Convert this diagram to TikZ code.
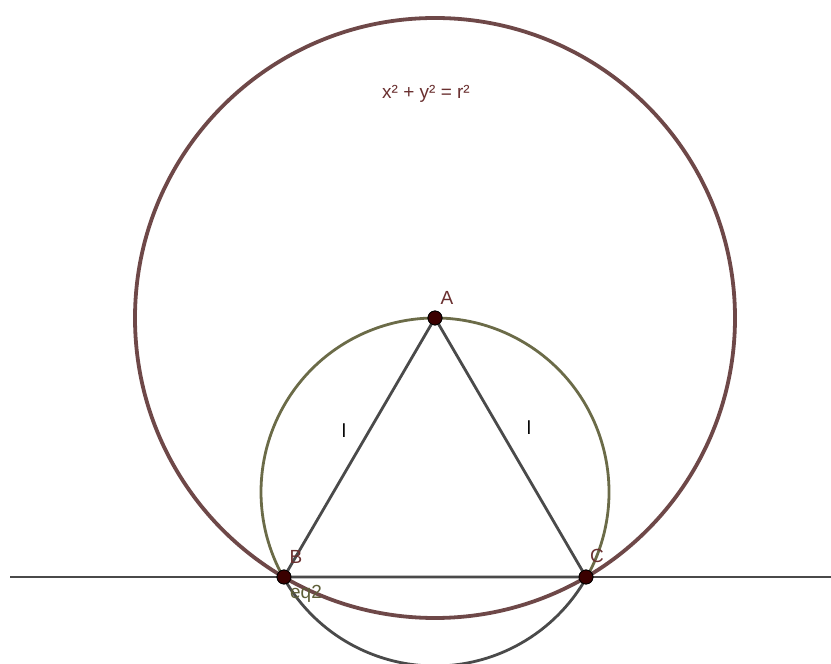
\documentclass[tikz,border=0pt]{standalone}
\usepackage{fontspec}
\setmainfont{Liberation Sans}
\usepackage{xcolor}
\definecolor{circbrown}{HTML}{6E4848}
\definecolor{circolive}{HTML}{6B6B48}
\definecolor{linegray}{HTML}{4A4A4A}
\definecolor{ptmaroon}{HTML}{3A0000}
\definecolor{lblmaroon}{HTML}{6A3030}
\definecolor{lblolive}{HTML}{5E5E38}
\usetikzlibrary{calc}
\tikzset{
  gpoint/.style ={circle, draw=black, line width=0.8pt, fill=ptmaroon, inner sep=0pt, minimum size=14pt},
  glbl/.style   ={font=\fontsize{19}{19}\selectfont, text=lblmaroon, inner sep=0pt},
  seglbl/.style ={font=\fontsize{19}{19}\selectfont, text=black, inner sep=0pt},
  bigcirc/.style={draw=circbrown, line width=3.8pt},
  smallarc/.style={draw=circolive, line width=2.8pt},
  lowarc/.style ={draw=linegray, line width=2.8pt},
  gseg/.style   ={draw=linegray, line width=2.8pt},
}
\begin{document}
\begin{tikzpicture}[x=1pt, y=1pt]
  \useasboundingbox (0,0) rectangle (831,664);
  % base line and the two circles
  \coordinate (L) at (10,87);
  \coordinate (R) at (831,87);
  \coordinate (O) at (435,172);
  \draw[gseg, line width=2.4pt] (L) -- (R);
  \draw[bigcirc] (435,346) circle[radius=300];
  \draw[smallarc] ($(O)+(-29.4:174)$) arc[start angle=-29.4, end angle=209.4, radius=174];
  \draw[lowarc] ($(O)+(209.4:174)$) arc[start angle=209.4, end angle=330.6, radius=174];
  % triangle
  \node[gpoint] (A) at (435,346) {};
  \node[gpoint] (B) at (284,87) {};
  \node[gpoint] (C) at (586,87) {};
  \draw[gseg] (A.center) -- (B.center) -- (C.center) -- cycle;
  \node[gpoint] at (A) {};
  \node[gpoint] at (B) {};
  \node[gpoint] at (C) {};
  % labels
  \node[glbl] (lA) at (447,366) {A};
  \node[glbl] (lB) at (296,107) {B};
  \node[glbl] (lC) at (597,108) {C};
  \node[glbl, text=lblolive] (leq) at (306,70) {eq2};
  \node[seglbl] (l1) at (344,233) {l};
  \node[seglbl] (l2) at (529,236) {l};
  \node[glbl] (eqn) at (426,570) {x² + y² = r²};
\end{tikzpicture}
\end{document}
